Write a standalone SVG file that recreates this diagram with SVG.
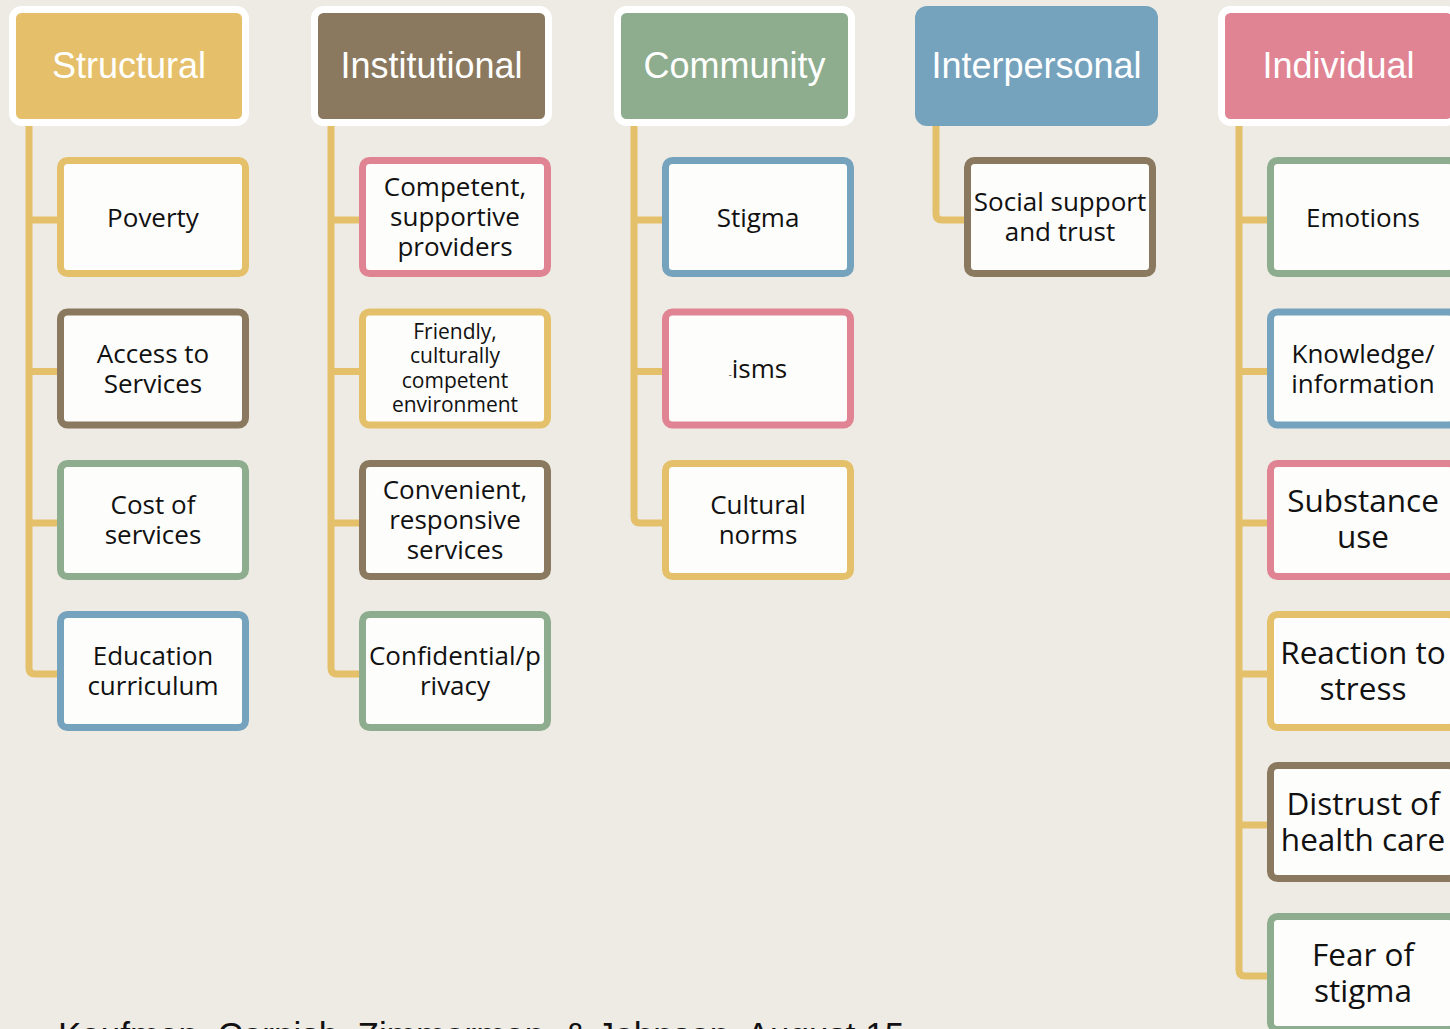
<svg xmlns="http://www.w3.org/2000/svg" width="1450" height="1029" viewBox="0 0 1450 1029">
  <style>
    .bg { fill: #EEEBE4; }
    .hdr { stroke: #FFFFFF; stroke-width: 7; }
    .hdr-text { font-family: "Liberation Sans", Arial, sans-serif; font-size: 36px; fill: #FFFFFF; text-anchor: middle; }
    .item { fill: #FDFDFB; stroke-width: 7; }
    .item-text { font-family: "Open Sans", "Liberation Sans", sans-serif; font-size: 26px; fill: #111111; text-anchor: middle; }
    .big { font-size: 31.5px; }
    .small { font-size: 21px; }
    .link { fill: none; stroke: #E5C06B; stroke-width: 7; stroke-linejoin: round; }
    .gold { stroke: #E5C06B; }
    .brown { stroke: #8A795E; }
    .green { stroke: #8DAD8E; }
    .blue { stroke: #75A2BD; }
    .pink { stroke: #E08493; }
    .foot { font-family: "Liberation Sans", Arial, sans-serif; font-size: 35px; fill: #111111; }
  </style>

  <rect class="bg" x="0" y="0" width="1450" height="1029"/>

  <!-- tree connectors: one spine per column with a stub to each item -->
  <g id="connectors">
    <path class="link" d="M29 120 V668 Q29 674 35 674 H60 M29 220 H60 M29 371.5 H60 M29 523 H60"/>
    <path class="link" d="M331 120 V668 Q331 674 337 674 H362 M331 220 H362 M331 371.5 H362 M331 523 H362"/>
    <path class="link" d="M634 120 V517 Q634 523 640 523 H665 M634 220 H665 M634 371.5 H665"/>
    <path class="link" d="M936 120 V214 Q936 220 942 220 H967"/>
    <path class="link" d="M1239 120 V970 Q1239 976 1245 976 H1270 M1239 220 H1270 M1239 371.5 H1270 M1239 523 H1270 M1239 674 H1270 M1239 825 H1270"/>
  </g>

  <!-- Structural -->
  <g id="structural">
    <rect class="hdr" x="12.5" y="9.5" width="233" height="113" rx="9" fill="#E5BF69"/>
    <text class="hdr-text" x="129" y="78">Structural</text>
  </g>
  <g id="poverty">
    <rect class="item gold" x="60.5" y="160.5" width="185" height="113" rx="7"/>
    <text class="item-text" x="153" y="226.5">Poverty</text>
  </g>
  <g id="access-to-services">
    <rect class="item brown" x="60.5" y="312" width="185" height="113" rx="7"/>
    <text class="item-text" x="153" y="362.8">Access to<tspan x="153" dy="30">Services</tspan></text>
  </g>
  <g id="cost-of-services">
    <rect class="item green" x="60.5" y="463.5" width="185" height="113" rx="7"/>
    <text class="item-text" x="153" y="514.3">Cost of<tspan x="153" dy="30">services</tspan></text>
  </g>
  <g id="education-curriculum">
    <rect class="item blue" x="60.5" y="614.5" width="185" height="113" rx="7"/>
    <text class="item-text" x="153" y="665.3">Education<tspan x="153" dy="30">curriculum</tspan></text>
  </g>

  <!-- Institutional -->
  <g id="institutional">
    <rect class="hdr" x="314.5" y="9.5" width="234" height="113" rx="9" fill="#8A795E"/>
    <text class="hdr-text" x="431.5" y="78">Institutional</text>
  </g>
  <g id="competent-providers">
    <rect class="item pink" x="362.5" y="160.5" width="185" height="113" rx="7"/>
    <text class="item-text" x="455" y="196">Competent,<tspan x="455" dy="30">supportive</tspan><tspan x="455" dy="30">providers</tspan></text>
  </g>
  <g id="friendly-environment">
    <rect class="item gold" x="362.5" y="312" width="185" height="113" rx="7"/>
    <text class="item-text small" x="455" y="338.8">Friendly,<tspan x="455" dy="24.4">culturally</tspan><tspan x="455" dy="24.4">competent</tspan><tspan x="455" dy="24.4">environment</tspan></text>
  </g>
  <g id="convenient-services">
    <rect class="item brown" x="362.5" y="463.5" width="185" height="113" rx="7"/>
    <text class="item-text" x="455" y="499">Convenient,<tspan x="455" dy="30">responsive</tspan><tspan x="455" dy="30">services</tspan></text>
  </g>
  <g id="confidential-privacy">
    <rect class="item green" x="362.5" y="614.5" width="185" height="113" rx="7"/>
    <text class="item-text" x="455" y="665">Confidential/p<tspan x="455" dy="30">rivacy</tspan></text>
  </g>

  <!-- Community -->
  <g id="community">
    <rect class="hdr" x="617.5" y="9.5" width="234" height="113" rx="9" fill="#8DAD8E"/>
    <text class="hdr-text" x="734.5" y="78">Community</text>
  </g>
  <g id="stigma">
    <rect class="item blue" x="665.5" y="160.5" width="185" height="113" rx="7"/>
    <text class="item-text" x="758" y="226.5">Stigma</text>
  </g>
  <g id="isms">
    <rect class="item pink" x="665.5" y="312" width="185" height="113" rx="7"/>
    <text class="item-text" x="758" y="378"><tspan font-size="9">-</tspan>isms</text>
  </g>
  <g id="cultural-norms">
    <rect class="item gold" x="665.5" y="463.5" width="185" height="113" rx="7"/>
    <text class="item-text" x="758" y="514.3">Cultural<tspan x="758" dy="30">norms</tspan></text>
  </g>

  <!-- Interpersonal -->
  <g id="interpersonal">
    <rect x="915" y="6" width="243" height="120" rx="12" fill="#75A2BD"/>
    <text class="hdr-text" x="1036.5" y="78">Interpersonal</text>
  </g>
  <g id="social-support">
    <rect class="item brown" x="967.5" y="160.5" width="185" height="113" rx="7"/>
    <text class="item-text" x="1060" y="210.5">Social support<tspan x="1060" dy="30">and trust</tspan></text>
  </g>

  <!-- Individual -->
  <g id="individual">
    <rect class="hdr" x="1221.5" y="9.5" width="234" height="113" rx="9" fill="#E08493"/>
    <text class="hdr-text" x="1338.5" y="78">Individual</text>
  </g>
  <g id="emotions">
    <rect class="item green" x="1270.5" y="160.5" width="185" height="113" rx="7"/>
    <text class="item-text" x="1363" y="226.5">Emotions</text>
  </g>
  <g id="knowledge">
    <rect class="item blue" x="1270.5" y="312" width="185" height="113" rx="7"/>
    <text class="item-text" x="1363" y="362.8">Knowledge/<tspan x="1363" dy="30">information</tspan></text>
  </g>
  <g id="substance-use">
    <rect class="item pink" x="1270.5" y="463.5" width="185" height="113" rx="7"/>
    <text class="item-text big" x="1363" y="512">Substance<tspan x="1363" dy="36">use</tspan></text>
  </g>
  <g id="reaction-to-stress">
    <rect class="item gold" x="1270.5" y="614.5" width="185" height="113" rx="7"/>
    <text class="item-text big" x="1363" y="664">Reaction to<tspan x="1363" dy="36">stress</tspan></text>
  </g>
  <g id="distrust">
    <rect class="item brown" x="1270.5" y="765.5" width="185" height="113" rx="7"/>
    <text class="item-text big" x="1363" y="815">Distrust of<tspan x="1363" dy="36">health care</tspan></text>
  </g>
  <g id="fear-of-stigma">
    <rect class="item green" x="1270.5" y="916.5" width="185" height="113" rx="7"/>
    <text class="item-text big" x="1363" y="966">Fear of<tspan x="1363" dy="36">stigma</tspan></text>
  </g>

  <text class="foot" x="58" y="1047">Kaufman, Cornish, Zimmerman, &amp; Johnson, August 15</text>
</svg>
